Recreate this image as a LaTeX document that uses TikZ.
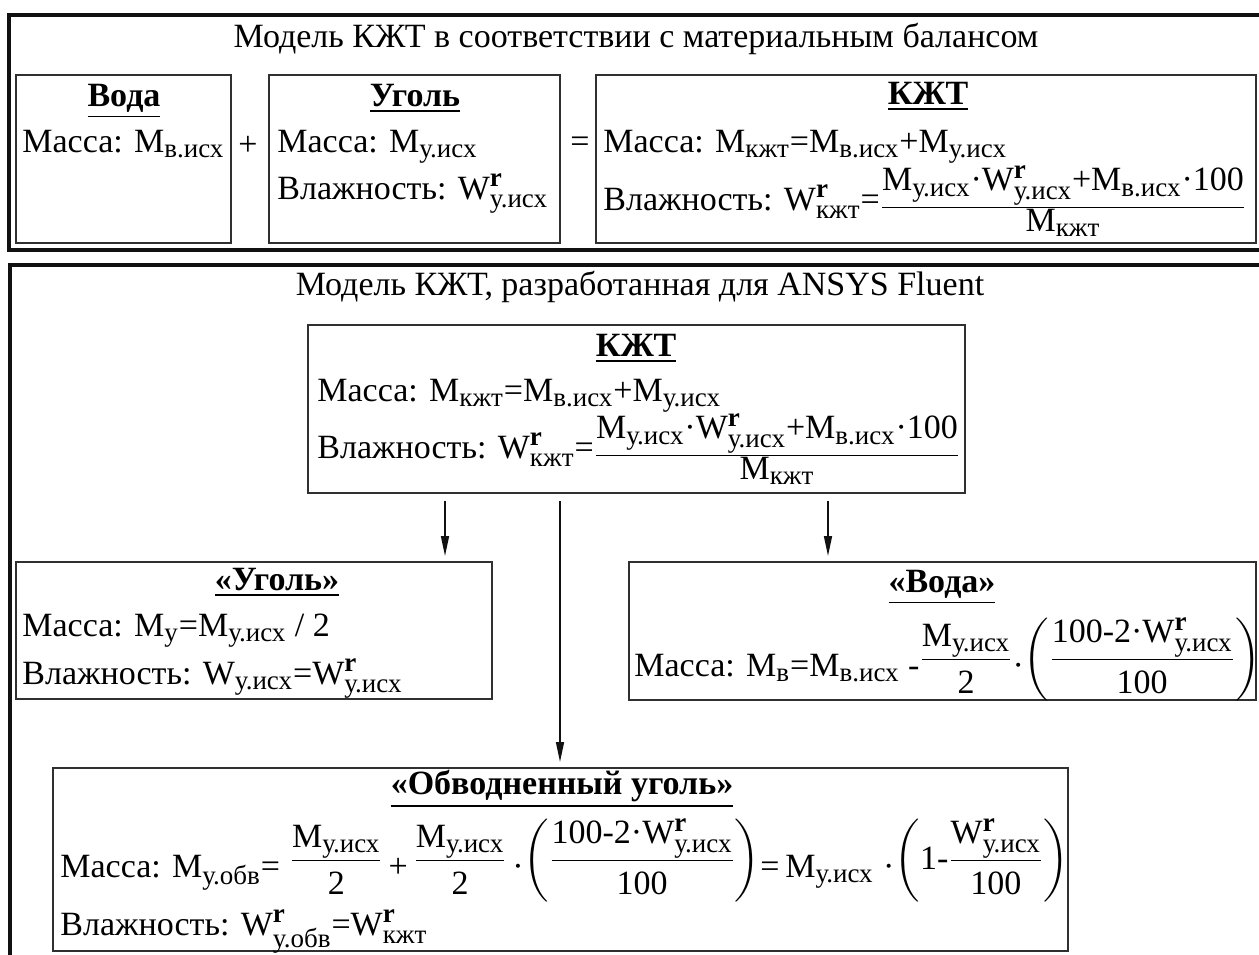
\documentclass[tikz,border=0pt]{standalone}
\usepackage{amsmath}
\usepackage{fontspec}
\setmainfont{Liberation Serif}
\usetikzlibrary{arrows.meta,positioning}
\DeclareMathSizes{17}{17}{13.5}{10}
\definecolor{InkBlack}{HTML}{111111}
\definecolor{BoxGray}{HTML}{303030}
\newcommand{\Mq}[1]{\text{M}_{\text{#1}}}
\newcommand{\Wq}[1]{\text{W}^{\textbf{r}}_{\text{#1}}}
\newcommand{\eqq}{\text{=}}
\newcommand{\plq}{\text{+}}
\newcommand{\dotq}{\text{·}}
% compact fraction, shifted by the optional amount
\newcommand{\fracq}[3][0pt]{\raisebox{#1}{$\textstyle\frac{\textstyle #2}{\textstyle #3}$}}
% the same with a little more room under the bar
\newcommand{\fracw}[3][0pt]{\raisebox{#1}{$\textstyle\frac{\textstyle #2}{\textstyle\rule{0pt}{2.05ex}#3}$}}
\newcommand{\parq}[2][0pt]{\raisebox{#1}{$\left(#2\right)$}}
\newcommand{\boxfont}{\fontsize{17}{21}\selectfont}
\tikzset{
  framebox/.style={draw=InkBlack, line width=2pt},
  modelbox/.style={rectangle, draw=BoxGray, line width=0.9pt, anchor=north west,
                inner sep=0pt, outer sep=0pt},
  headtext/.style={anchor=base, font=\boxfont\bfseries, inner sep=0pt},
  linetext/.style={anchor=base west, inner sep=0pt},
  flowarrow/.style={-{Triangle[length=10pt,width=4pt]}, line width=0.8pt, InkBlack,
                shorten <=4pt, shorten >=3pt},
}

\begin{document}
\begin{tikzpicture}[x=0.5pt, y=-0.5pt, font=\boxfont]
    % Coordinate map (pixel grid, y downwards):
    % top frame    (9,15)--(right,250)  -- material balance model
    % bottom frame (10,265)--(right,bottom) -- model for ANSYS Fluent
    % arrows leave kjtB at x = 445, 560, 828
    \clip (0,0) rectangle (1259,954);
    \fill[white] (0,0) rectangle (1259,954);

    \draw[framebox] (9,15) rectangle (1280,250);
    \draw[framebox] (10,265) rectangle (1280,1000);

    % material balance
    \node[anchor=base] (titleA) at (636,47) {Модель КЖТ в соответствии с материальным балансом};

    \node[modelbox, minimum width=107.5pt, minimum height=84pt] (water) at (16,75) {};
    \node[modelbox, minimum width=145.5pt, minimum height=84pt] (coal) at (269,75) {};
    \node[modelbox, minimum width=330pt, minimum height=84pt] (kjt) at (596,75) {};
    \node (plus) at (248,146) {+};
    \node (equal) at (580,145) {=};

    \node[headtext] (waterHead) at (124,106) {\underline{Вода}};
    \node[linetext] (waterMass) at (22,152) {Масса: $\Mq{в.исх}$};

    \node[headtext] (coalHead) at (415,106) {\underline{Уголь}};
    \node[linetext] (coalMass) at (277,152) {Масса: $\Mq{у.исх}$};
    \node[linetext] (coalWet) at (277,199) {Влажность: $\Wq{у.исх}$};

    \node[headtext] (kjtHead) at (928,104) {\underline{КЖТ}};
    \node[linetext] (kjtMass) at (603,152) {Масса: $\Mq{кжт}\eqq\Mq{в.исх}\plq\Mq{у.исх}$};
    \node[linetext] (kjtWet) at (603,210) {Влажность: $\Wq{кжт}\eqq\fracq[-3pt]{\Mq{у.исх}\dotq\Wq{у.исх}\plq\Mq{в.исх}\dotq\text{100}}{\Mq{кжт}}$};

    % model for Fluent
    \node[anchor=base] (titleB) at (640,295) {Модель КЖТ, разработанная для ANSYS Fluent};

    \node[modelbox, minimum width=328.5pt, minimum height=84pt] (kjtB) at (308,325) {};
    \node[headtext] (kjtBHead) at (636,356) {\underline{КЖТ}};
    \node[linetext] (kjtBMass) at (317,401) {Масса: $\Mq{кжт}\eqq\Mq{в.исх}\plq\Mq{у.исх}$};
    \node[linetext] (kjtBWet) at (317,458) {Влажность: $\Wq{кжт}\eqq\fracq[-3pt]{\Mq{у.исх}\dotq\Wq{у.исх}\plq\Mq{в.исх}\dotq\text{100}}{\Mq{кжт}}$};

    \node[modelbox, minimum width=238pt, minimum height=68.5pt] (coalB) at (16,562) {};
    \node[headtext] (coalBHead) at (277,590) {\underline{«Уголь»}};
    \node[linetext] (coalBMass) at (22,636) {Масса: $\Mq{у}\eqq\Mq{у.исх}$ / 2};
    \node[linetext] (coalBWet) at (22,684) {Влажность: $\text{W}_{\text{у.исх}}\eqq\Wq{у.исх}$};

    \node[modelbox, minimum width=313.5pt, minimum height=69pt] (waterB) at (629,562) {};
    \node[headtext] (waterBHead) at (942,592) {\underline{«Вода»}};
    \node[linetext] (waterBMass) at (634,676) {Масса: $\Mq{в}\eqq\Mq{в.исх}\text{ -}\fracw[4pt]{\Mq{у.исх}}{\text{2}}\dotq\parq[4pt]{\fracw{\text{100-2}\dotq\Wq{у.исх}}{\text{100}}}$};

    \node[modelbox, minimum width=507.5pt, minimum height=91.5pt] (wetB) at (53,768) {};
    \node[headtext] (wetBHead) at (562,794) {\underline{«Обводненный уголь»}};
    \node[linetext] (wetBMass) at (60,877) {Масса: $\Mq{у.обв}\eqq\;\fracw[4pt]{\Mq{у.исх}}{\text{2}}\,\plq\,\fracw[4pt]{\Mq{у.исх}}{\text{2}}\,\dotq\parq[4pt]{\fracw{\text{100-2}\dotq\Wq{у.исх}}{\text{100}}}\eqq\,\Mq{у.исх}\;\dotq\parq[4pt]{\text{1-}\fracw{\Wq{у.исх}}{\text{100}}}$};
    \node[linetext] (wetBWet) at (60,935) {Влажность: $\Wq{у.обв}\eqq\Wq{кжт}$};

    \coordinate (toCoal) at (445,0);
    \coordinate (toWet) at (560,0);
    \coordinate (toWater) at (828,0);
    \draw[flowarrow] (kjtB.south -| toCoal) -- (coalB.north -| toCoal);
    \draw[flowarrow] (kjtB.south -| toWet) -- (wetB.north -| toWet);
    \draw[flowarrow] (kjtB.south -| toWater) -- (waterB.north -| toWater);
\end{tikzpicture}
\end{document}
